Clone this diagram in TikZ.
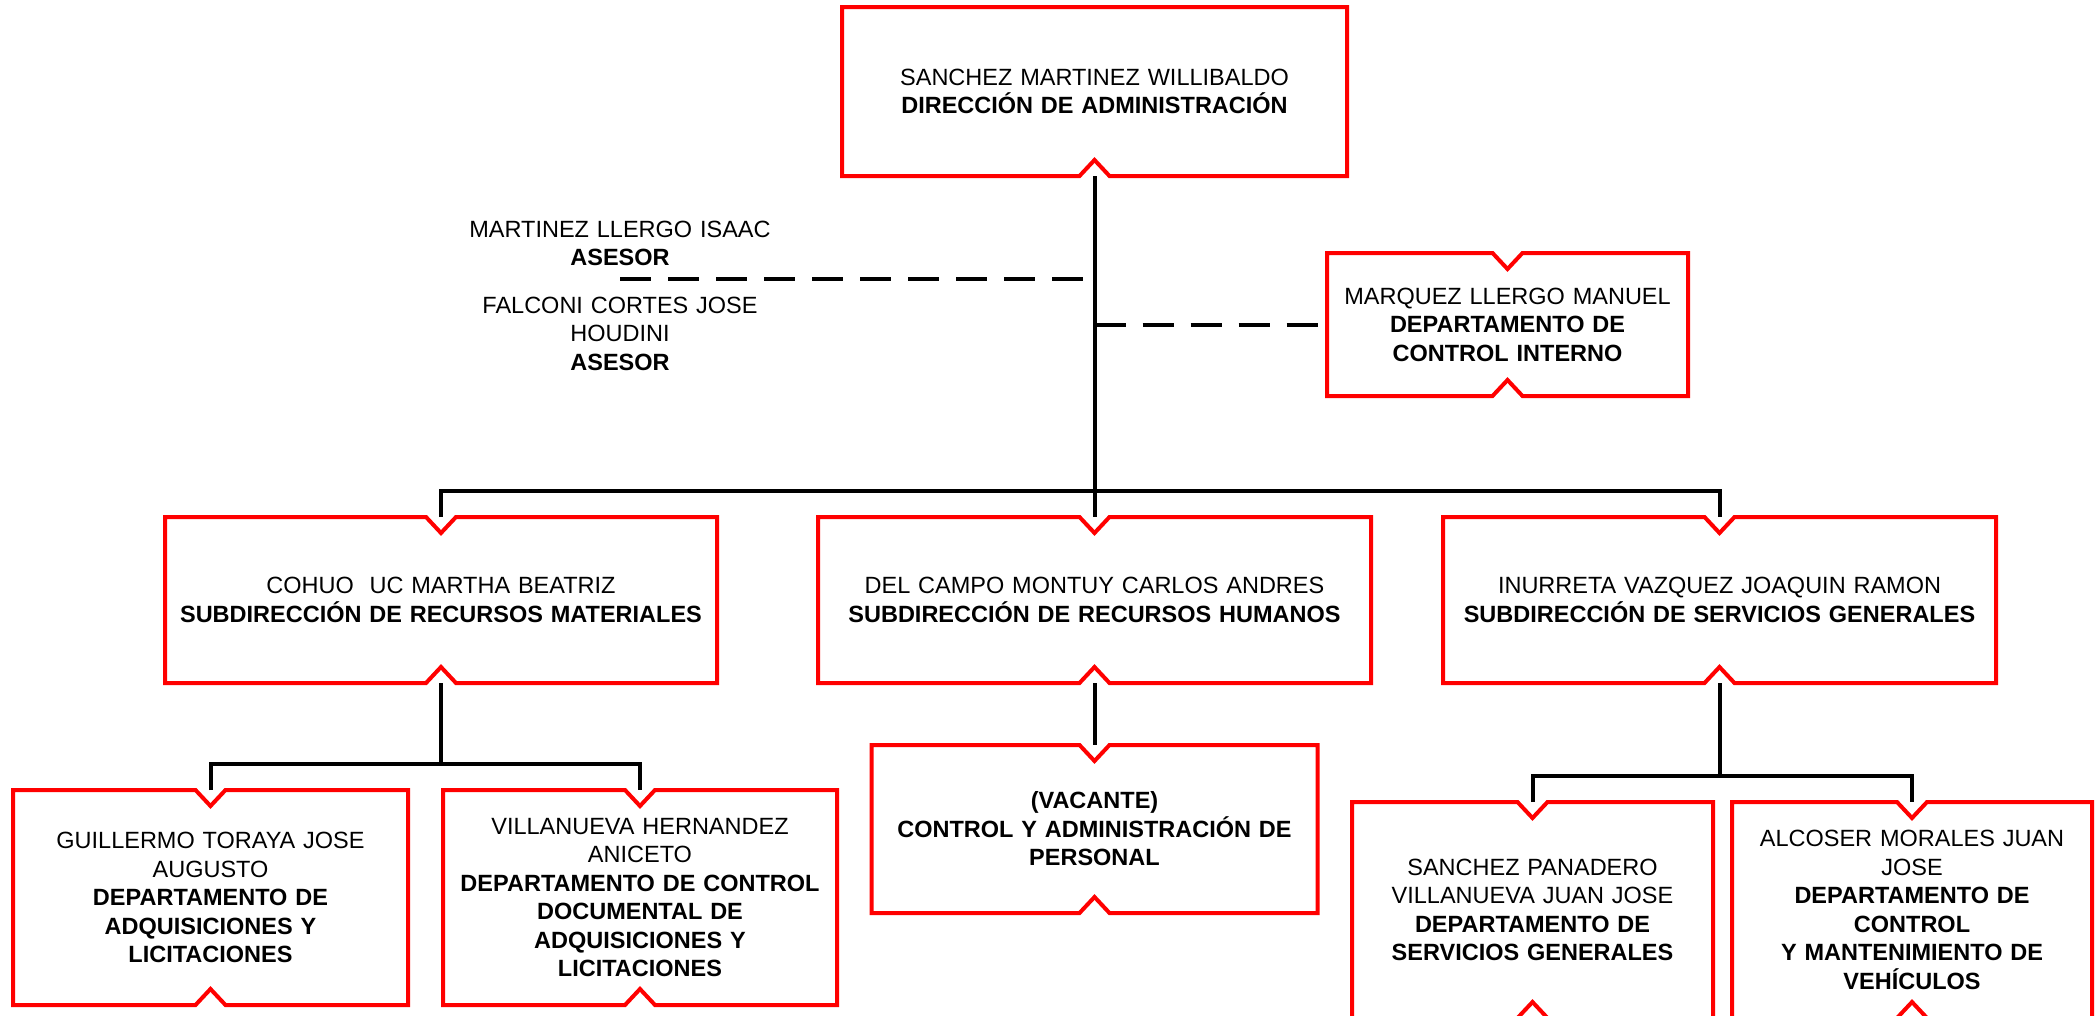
\documentclass[tikz,border=0pt]{standalone}
\usepackage{fontspec}
\setmainfont{Liberation Sans}
\newcommand\fs{\fontsize{23.5pt}{28.5pt}\selectfont}
\newcommand\nbTB[1]{\draw[redline] (#1.north west) -- ([xshift=-15pt]#1.north) -- ([yshift=-16pt]#1.north) -- ([xshift=15pt]#1.north) -- (#1.north east) -- (#1.south east) -- ([xshift=15pt]#1.south) -- ([yshift=16pt]#1.south) -- ([xshift=-15pt]#1.south) -- (#1.south west) -- cycle;}
\newcommand\nbB[1]{\draw[redline] (#1.north west) -- (#1.north east) -- (#1.south east) -- ([xshift=15pt]#1.south) -- ([yshift=16pt]#1.south) -- ([xshift=-15pt]#1.south) -- (#1.south west) -- cycle;}
\begin{document}
\begin{tikzpicture}[x=1pt,y=-1pt,
  box/.style={draw=none, rectangle, inner sep=0pt, outer sep=0pt, align=center, font=\fs},
  txt/.style={inner sep=0pt, outer sep=0pt, align=center, font=\fs, text width=340pt},
  redline/.style={draw=red, line width=4pt, line join=miter},
  conn/.style={draw=black, line width=4pt, line join=miter},
  dashconn/.style={draw=black, line width=4pt, dash pattern=on 31pt off 17pt}]
\useasboundingbox[fill=white] (0,0) rectangle (2099,1015);

% boxes
\node[box, minimum width=505pt, minimum height=169pt, text width=480pt] (dir) at (1094.5,91.5)
  {SANCHEZ MARTINEZ WILLIBALDO\\\textbf{DIRECCIÓN DE ADMINISTRACIÓN}};
\node[box, minimum width=361pt, minimum height=143pt, text width=345pt] (mq) at (1507.5,324.5)
  {MARQUEZ LLERGO MANUEL\\\textbf{DEPARTAMENTO DE}\\\textbf{CONTROL INTERNO}};
\node[box, minimum width=552pt, minimum height=166pt, text width=535pt] (sub1) at (441,600)
  {COHUO\ \ UC MARTHA BEATRIZ\\\textbf{SUBDIRECCIÓN DE RECURSOS MATERIALES}};
\node[box, minimum width=553pt, minimum height=166pt, text width=535pt] (sub2) at (1094.5,600)
  {DEL CAMPO MONTUY CARLOS ANDRES\\\textbf{SUBDIRECCIÓN DE RECURSOS HUMANOS}};
\node[box, minimum width=553pt, minimum height=166pt, text width=535pt] (sub3) at (1719.5,600)
  {INURRETA VAZQUEZ JOAQUIN RAMON\\\textbf{SUBDIRECCIÓN DE SERVICIOS GENERALES}};
\node[box, minimum width=395pt, minimum height=215pt, text width=380pt] (depA) at (210.5,897.5)
  {GUILLERMO TORAYA JOSE\\AUGUSTO\\\textbf{DEPARTAMENTO DE}\\\textbf{ADQUISICIONES Y}\\\textbf{LICITACIONES}};
\node[box, minimum width=394pt, minimum height=215pt, text width=380pt] (depB) at (640,897.5)
  {VILLANUEVA HERNANDEZ\\ANICETO\\\textbf{DEPARTAMENTO DE CONTROL}\\\textbf{DOCUMENTAL DE}\\\textbf{ADQUISICIONES Y}\\\textbf{LICITACIONES}};
\node[box, minimum width=446pt, minimum height=168pt, text width=430pt] (vac) at (1094.5,829)
  {\textbf{(VACANTE)}\\\textbf{CONTROL Y ADMINISTRACIÓN DE}\\\textbf{PERSONAL}};
\node[box, minimum width=361pt, minimum height=216pt, text width=345pt] (depC) at (1532.5,910)
  {SANCHEZ PANADERO\\VILLANUEVA JUAN JOSE\\\textbf{DEPARTAMENTO DE}\\\textbf{SERVICIOS GENERALES}};
\node[box, minimum width=360pt, minimum height=216pt, text width=345pt] (depD) at (1912,910)
  {ALCOSER MORALES JUAN\\JOSE\\\textbf{DEPARTAMENTO DE}\\\textbf{CONTROL}\\\textbf{Y MANTENIMIENTO DE}\\\textbf{VEHÍCULOS}};

% advisors
\node[txt, anchor=base] (as1) at (620,237) {MARTINEZ LLERGO ISAAC\\\textbf{ASESOR}};
\node[txt, anchor=base] (as2) at (620,313) {FALCONI CORTES JOSE\\HOUDINI\\\textbf{ASESOR}};
\coordinate (asl) at (620,279);

% outlines
\nbB{dir}
\foreach \n in {mq,sub1,sub2,sub3,depA,depB,vac,depC,depD} {\nbTB{\n}}

% connector helpers
\coordinate (bar) at (1094.5,491);
\coordinate (barA) at (441,764);
\coordinate (barC) at (1719.5,776);

% connectors
\draw[conn] (dir.south) -- (sub2.north);
\draw[conn] (sub1.north) -- (sub1.north |- bar) -- (sub3.north |- bar) -- (sub3.north);
\draw[dashconn] (asl) -- (asl -| dir.south);
\draw[dashconn] (mq.west -| dir.south) -- (mq.west);
\draw[conn] (sub1.south) -- (sub1.south |- barA);
\draw[conn] (depA.north) -- (depA.north |- barA) -- (depB.north |- barA) -- (depB.north);
\draw[conn] (sub2.south) -- (vac.north);
\draw[conn] (sub3.south) -- (sub3.south |- barC);
\draw[conn] (depC.north) -- (depC.north |- barC) -- (depD.north |- barC) -- (depD.north);
\end{tikzpicture}
\end{document}
